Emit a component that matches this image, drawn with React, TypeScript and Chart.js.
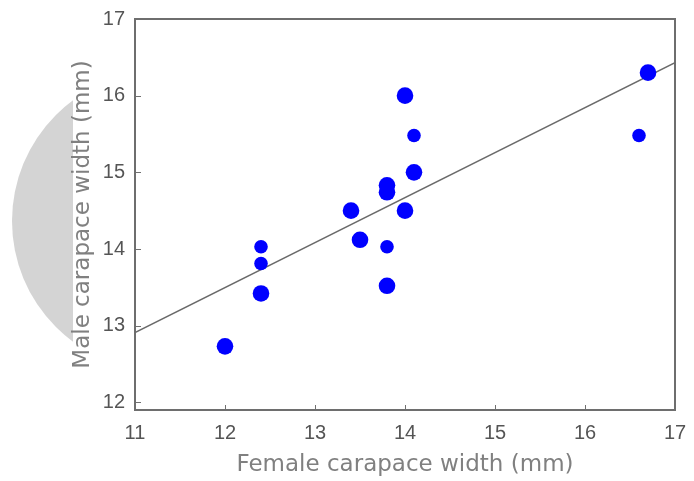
import React, { useEffect, useRef } from "react";
import { Chart, registerables } from "chart.js";

Chart.register(...registerables);

// Data
const xTickValues = [11, 12, 13, 14, 15, 16, 17];
const yTickValues = [12, 13, 14, 15, 16, 17];

const femaleWidthLarge = [12.0, 13.4, 13.5, 13.8, 13.8, 13.8, 14.0, 14.1, 14.0, 12.4, 16.7];
const maleWidthLarge = [12.73, 14.5, 14.12, 14.83, 14.74, 13.52, 16.0, 15.0, 14.5, 13.42, 16.3];

const femaleWidthSmall = [13.8, 14.1, 16.6, 12.4, 12.4];
const maleWidthSmall = [14.03, 15.48, 15.48, 14.03, 13.81];

const fitX = [11, 17];
const fitY = [12.91, 16.43];

const xTitle = "Female carapace width (mm)";
const yTitle = "Male carapace width (mm)";

const decorPlugin = {
  id: "decor",
  beforeDraw(chart: any) {
    const ctx = chart.ctx;
    ctx.save();
    ctx.beginPath();
    ctx.rect(0, 0, 73, chart.height);
    ctx.clip();
    ctx.beginPath();
    ctx.arc(162, 221, 150, 0, Math.PI * 2);
    ctx.fillStyle = "#d4d4d4";
    ctx.fill();
    ctx.restore();
  },
  beforeDatasetsDraw(chart: any) {
    const ctx = chart.ctx;
    const { left, right, top, bottom } = chart.chartArea;
    const xs = chart.scales.x;
    const ys = chart.scales.y;
    ctx.save();
    ctx.strokeStyle = "#707070";
    ctx.lineWidth = 1;
    ctx.beginPath();
    xTickValues.forEach((v) => {
      const px = Math.round(xs.getPixelForValue(v)) + 0.5;
      ctx.moveTo(px, bottom);
      ctx.lineTo(px, bottom - 5);
    });
    yTickValues.forEach((v) => {
      const py = Math.round(ys.getPixelForValue(v)) + 0.5;
      ctx.moveTo(left, py);
      ctx.lineTo(left + 6, py);
    });
    ctx.stroke();
    ctx.lineWidth = 2;
    ctx.strokeStyle = "#6e6e6e";
    ctx.strokeRect(left, top, right - left, bottom - top);
    ctx.restore();
  },
};

export default function App() {
  const ref = useRef<HTMLCanvasElement>(null);
  useEffect(() => {
    if (!ref.current) return;
    const chart = new Chart(ref.current, {
      type: "scatter",
      data: {
        datasets: [
          {
            label: "large",
            data: femaleWidthLarge.map((x, i) => ({ x, y: maleWidthLarge[i] })),
            backgroundColor: "#0000ff",
            borderColor: "#0000ff",
            pointRadius: 8.3,
            borderWidth: 0,
          },
          {
            label: "small",
            data: femaleWidthSmall.map((x, i) => ({ x, y: maleWidthSmall[i] })),
            backgroundColor: "#0000ff",
            borderColor: "#0000ff",
            pointRadius: 6.8,
            borderWidth: 0,
          },
          {
            type: "line",
            label: "fit",
            data: fitX.map((x, i) => ({ x, y: fitY[i] })),
            borderColor: "#6a6a6a",
            borderWidth: 1.5,
            pointRadius: 0,
            fill: false,
          } as any,
        ],
      },
      options: {
        responsive: false,
        animation: false,
        devicePixelRatio: 1,
        layout: { padding: { top: 19, right: 19, left: 0, bottom: 0 } },
        plugins: { legend: { display: false }, tooltip: { enabled: false } },
        scales: {
          x: {
            type: "linear",
            min: 11,
            max: 17,
            grid: { display: false, drawTicks: false },
            border: { display: false },
            afterBuildTicks: (s: any) => {
              s.ticks = xTickValues.map((v) => ({ value: v }));
            },
            afterFit: (s: any) => {
              s.height = 71;
              s.paddingLeft = 0;
              s.paddingRight = 0;
            },
            ticks: {
              padding: 11,
              color: "#555555",
              font: { family: "'Liberation Sans Narrow', 'Liberation Sans', sans-serif", size: 20 },
              maxRotation: 0,
            },
            title: {
              display: true,
              text: xTitle,
              color: "#808080",
              font: { family: "'DejaVu Sans', sans-serif", size: 23 },
              padding: { top: 0, bottom: 2 },
            },
          },
          y: {
            type: "linear",
            min: 11.9,
            max: 17,
            grid: { display: false, drawTicks: false },
            border: { display: false },
            afterBuildTicks: (s: any) => {
              s.ticks = yTickValues.map((v) => ({ value: v }));
            },
            afterFit: (s: any) => {
              s.width = 135;
              s.paddingTop = 0;
              s.paddingBottom = 0;
            },
            ticks: {
              padding: 10,
              color: "#555555",
              font: { family: "'Liberation Sans Narrow', 'Liberation Sans', sans-serif", size: 20 },
            },
            title: {
              display: true,
              text: yTitle,
              color: "#808080",
              font: { family: "'DejaVu Sans', sans-serif", size: 23 },
              padding: { top: 69, bottom: 0 },
            },
          },
        },
      },
      plugins: [decorPlugin],
    });
    return () => chart.destroy();
  }, []);
  return (
    <div style={{ position: "fixed", left: 0, top: 0, width: 694, height: 481, background: "#fff" }}>
      <canvas ref={ref} width={694} height={481} style={{ width: 694, height: 481, display: "block" }} />
    </div>
  );
}
